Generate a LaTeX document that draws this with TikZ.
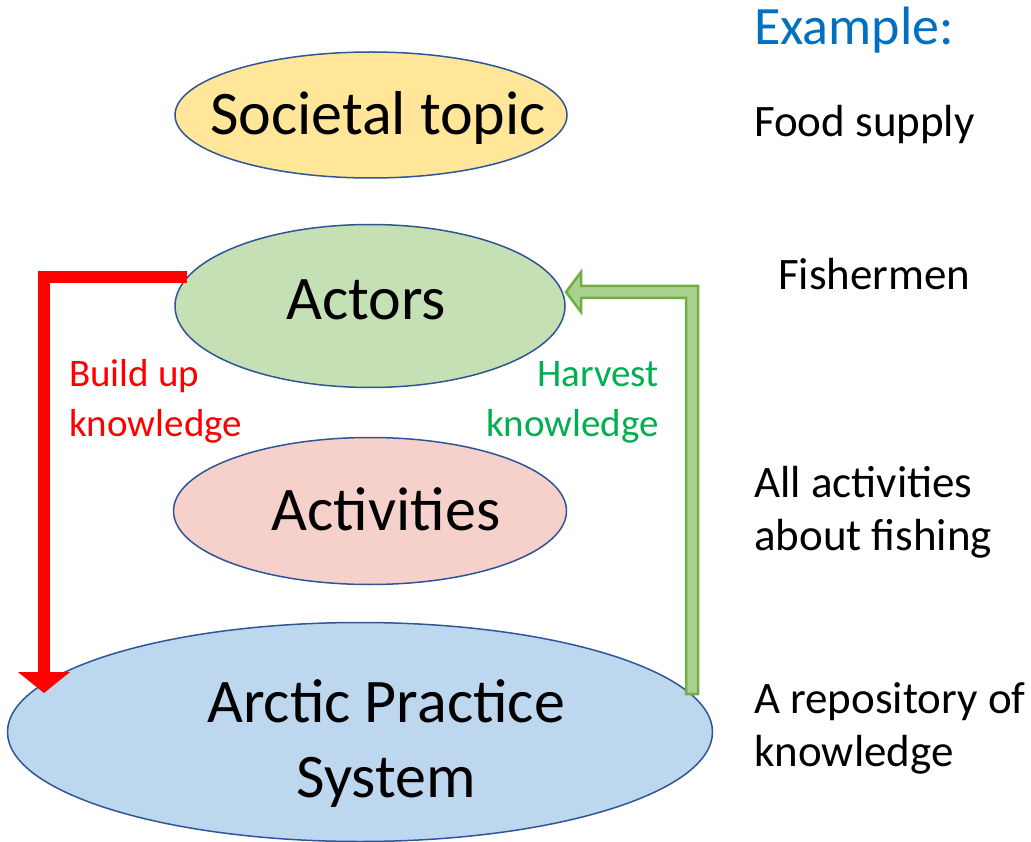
\documentclass[tikz,border=0pt]{standalone}
\usepackage{fontspec}
\setmainfont{Carlito}
\usetikzlibrary{shapes.geometric,arrows.meta}
\definecolor{bordblue}{HTML}{2F5597}
\definecolor{topicyellow}{HTML}{FFE699}
\definecolor{actgreen}{HTML}{C5E0B4}
\definecolor{actpink}{HTML}{F6D1CC}
\definecolor{sysblue}{HTML}{BDD7EE}
\definecolor{harvfill}{HTML}{A9D18E}
\definecolor{harvline}{HTML}{70AD47}
\definecolor{harvtext}{HTML}{00B050}
\definecolor{exblue}{HTML}{0070C0}
\tikzset{
	bubble/.style={ellipse,draw=bordblue,line width=1.5pt,inner sep=0pt},
	bigtext/.style={font=\fontsize{62}{75}\selectfont,anchor=base,align=center,inner sep=0pt},
	sidetext/.style={font=\fontsize{45}{53}\selectfont,anchor=base west,align=left,inner sep=0pt},
	arrowtext/.style={font=\fontsize{39}{50}\selectfont,inner sep=0pt},
	buildarrow/.style={draw=red,line width=12pt,-{Triangle[length=21pt,width=51pt]}},
	harvestarrow/.style={draw=harvline,fill=harvfill,line width=2.5pt}
}
\begin{document}
\begin{tikzpicture}[x=1pt,y=-1pt]
	\useasboundingbox (0,0) rectangle (1031,842);
	% the four levels
	\node[bubble,fill=topicyellow,minimum width=392pt,minimum height=126pt] (topic) at (371,115) {};
	\node[bubble,fill=actgreen,minimum width=390pt,minimum height=163pt] (act) at (370,306) {};
	\node[bubble,fill=actpink,minimum width=393pt,minimum height=147pt] (acty) at (370,511) {};
	\node[bubble,fill=sysblue,minimum width=705pt,minimum height=219pt] (aps) at (360,732) {};
	\node[bigtext] (topictext) at (378,135) {Societal topic};
	\node[bigtext] (acttext) at (366,320) {Actors};
	\node[bigtext] (actytext) at (386,530) {Activities};
	\node[bigtext] (apstext) at (386,797) {Arctic Practice\\System};
	% knowledge flows
	\coordinate (bs) at (44,693);
	\draw[buildarrow] (act.171) -| (bs);
	\coordinate (hs) at (692,694);
	\coordinate (he) at (566,292);
	\draw[harvestarrow] (he) -- ++(15,-20) -- ++(0,14) -| ([xshift=6pt]hs) -- ([xshift=-6pt]hs) |- ([shift={(15,6)}]he) -- ++(0,14) -- cycle;
	\node[arrowtext,text=red,anchor=base west,align=left] (buildtext) at (69,436) {Build up\\knowledge};
	\node[arrowtext,text=harvtext,anchor=base east,align=right] (harvtext) at (659,436) {Harvest\\knowledge};
	% example column
	\node[sidetext,text=exblue,font=\fontsize{54}{60}\selectfont] (extitle) at (754,45) {Example:};
	\node[sidetext] (ex1) at (754,137) {Food supply};
	\node[sidetext] (ex2) at (778,290) {Fishermen};
	\node[sidetext] (ex3) at (754,550) {All activities\\about fishing};
	\node[sidetext] (ex4) at (754,766) {A repository of\\knowledge};
\end{tikzpicture}
\end{document}
